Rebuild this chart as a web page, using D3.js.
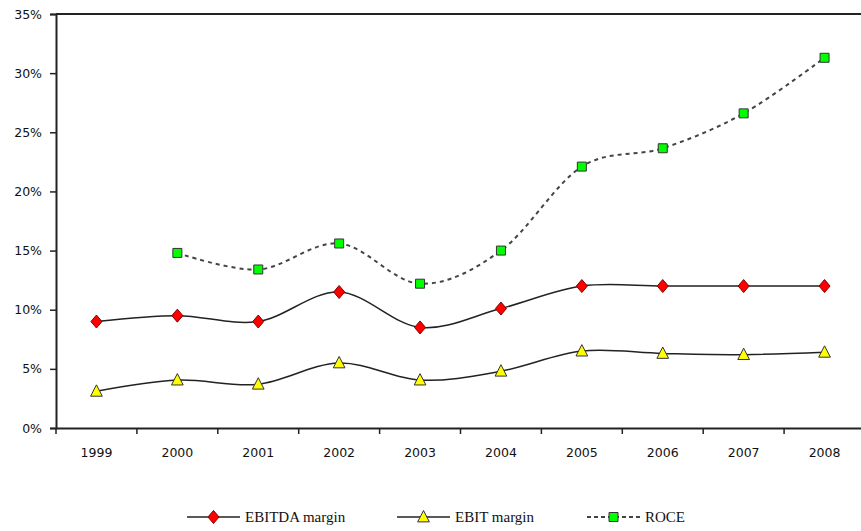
<!DOCTYPE html>
<html><head><meta charset="utf-8">
<script src="https://cdn.jsdelivr.net/npm/d3@7"></script>
<style>body{margin:0;background:#fff}svg{display:block}
.ax text{font-family:"DejaVu Sans",sans-serif;font-size:12.5px;fill:#111}
.lg text{font-family:"Liberation Serif","DejaVu Serif",serif;font-size:15px;fill:#111}
</style>
</head><body>
<svg id="c" width="861" height="531"></svg>
<script>
const years = ["1999","2000","2001","2002","2003","2004","2005","2006","2007","2008"];
const ebitda = [9.0, 9.5, 9.0, 11.5, 8.5, 10.1, 12.0, 12.0, 12.0, 12.0];
const ebit = [3.1, 4.05, 3.7, 5.5, 4.05, 4.8, 6.5, 6.3, 6.2, 6.4];
const roce = [null, 14.8, 13.4, 15.6, 12.2, 15.0, 22.1, 23.65, 26.6, 31.3];
const yTicks = [0,5,10,15,20,25,30,35];
const legendNames = ["EBITDA margin","EBIT margin","ROCE"];

const svg = d3.select("#c");
const L = 56, R = 865, T = 14, B = 428;
const x = d3.scaleBand().domain(years).range([L, R]).padding(0);
const y = d3.scaleLinear().domain([0,35]).range([B, T]);

// top border
svg.append("line").attr("x1",L).attr("x2",861).attr("y1",T).attr("y2",T)
  .attr("stroke","#222").attr("stroke-width",2);

// y axis
const ya = svg.append("g").attr("class","ax").attr("transform",`translate(${L},0)`)
  .call(d3.axisLeft(y).tickValues(yTicks).tickFormat(d=>d+"%").tickSize(6).tickPadding(8));
ya.select(".domain").attr("stroke","#222").attr("stroke-width",2);
ya.selectAll(".tick line").attr("stroke","#222").attr("stroke-width",1.5);
ya.selectAll("text").attr("font-family",null).attr("font-size",null);

// x axis
const xa = svg.append("g").attr("class","ax").attr("transform",`translate(0,${B})`)
  .call(d3.axisBottom(x).tickSize(0).tickPadding(20));
xa.select(".domain").attr("stroke","#222").attr("stroke-width",2);
xa.selectAll("text").attr("font-family",null).attr("font-size",null);
xa.selectAll(".bt").data(years).enter().append("line")
  .attr("x1",d=>x(d)).attr("x2",d=>x(d)).attr("y1",0).attr("y2",6)
  .attr("stroke","#222").attr("stroke-width",1.5);

const cx = i => x(years[i]) + x.bandwidth()/2;
const curve = d3.curveCatmullRom.alpha(0);

function drawLine(vals, opts){
  const pts = vals.map((v,i)=>[i,v]).filter(d=>d[1]!=null);
  const line = d3.line().x(d=>cx(d[0])).y(d=>y(d[1])).curve(curve);
  svg.append("path").datum(pts).attr("d",line).attr("fill","none")
    .attr("stroke",opts.stroke).attr("stroke-width",opts.width)
    .attr("stroke-dasharray",opts.dash||null);
  return pts;
}

const diamond = s => `M0,${-s}L${s*0.85},0L0,${s}L${-s*0.85},0Z`;
const tri = s => `M0,${-s}L${s*0.9},${s*0.75}L${-s*0.9},${s*0.75}Z`;
const sq = s => `M${-s},${-s}H${s}V${s}H${-s}Z`;

function markers(pts, path, fill, stroke){
  svg.append("g").selectAll("path").data(pts).enter().append("path")
    .attr("d",path).attr("transform",d=>`translate(${cx(d[0])},${y(d[1])})`)
    .attr("fill",fill).attr("stroke",stroke).attr("stroke-width",1);
}

const p3 = drawLine(roce,{stroke:"#444",width:2,dash:"4,4"});
const p1 = drawLine(ebitda,{stroke:"#222",width:1.5});
const p2 = drawLine(ebit,{stroke:"#222",width:1.5});
markers(p1, diamond(6.5), "#ff0000", "#800000");
markers(p2, tri(6.5), "#ffff00", "#333");
markers(p3, sq(4.5), "#00ff00", "#333");

// legend
const lg = [
  {x:187, path:diamond(6.5), fill:"#ff0000", stroke:"#800000", dash:null, ls:"#222"},
  {x:397, path:tri(6.5), fill:"#ffff00", stroke:"#333", dash:null, ls:"#222"},
  {x:587, path:sq(4.5), fill:"#00ff00", stroke:"#333", dash:"4,3", ls:"#444"}
];
const ly = 517;
lg.forEach((d,i)=>{
  const g = svg.append("g").attr("class","lg");
  g.append("line").attr("x1",d.x).attr("x2",d.x+53).attr("y1",ly).attr("y2",ly)
    .attr("stroke",d.ls).attr("stroke-width",d.dash?2:1.5).attr("stroke-dasharray",d.dash);
  g.append("path").attr("d",d.path).attr("transform",`translate(${d.x+26.5},${ly})`)
    .attr("fill",d.fill).attr("stroke",d.stroke);
  g.append("text").attr("x",d.x+58).attr("y",ly+5).text(legendNames[i]);
});
</script>
</body></html>
